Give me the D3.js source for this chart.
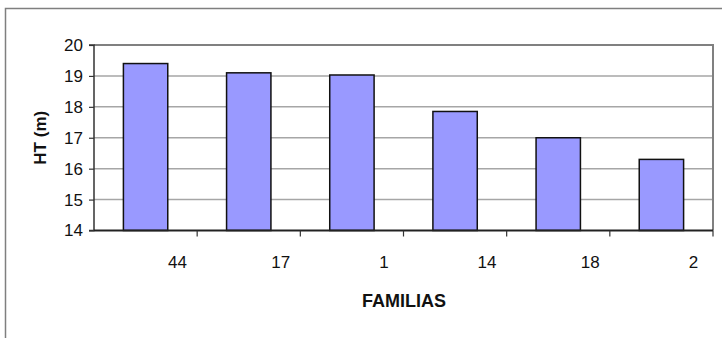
<!DOCTYPE html>
<html><head><meta charset="utf-8">
<script src="https://cdn.jsdelivr.net/npm/d3@7"></script>
<style>body{margin:0;background:#fff;}svg{display:block;font-family:"Liberation Sans",Arial,sans-serif;}</style>
</head><body>
<svg id="c" width="722" height="338"></svg>
<script>
const categories = ["44","17","1","14","18","2"];
const values = [19.4, 19.1, 19.03, 17.85, 17.0, 16.3];
const yTicks = [14,15,16,17,18,19,20];
const yTitle = "HT (m)";
const xTitle = "FAMILIAS";

const svg = d3.select("#c");
const L = 94, R = 713, T = 45, B = 230.5;

// outer frame
svg.append("path").attr("d", `M5.5,338 V8.5 H722`).attr("fill","none").attr("stroke","#7f7f7f").attr("stroke-width",1.5);

const x = d3.scaleBand().domain(categories).range([L, R]).paddingInner(0.57).paddingOuter(0.285);
const xb = d3.scaleBand().domain(categories).range([L, R]);
const y = d3.scaleLinear().domain([14,20]).range([B, T]);

// gridlines
svg.append("g").selectAll("line").data(yTicks.filter(t => t>14 && t<20)).join("line")
  .attr("x1", L).attr("x2", R).attr("y1", d => y(d)).attr("y2", d => y(d))
  .attr("stroke","#a6a6a6").attr("stroke-width",1.5);
// plot frame top/right
svg.append("path").attr("d", `M${L},${T} H${R} V${B}`).attr("fill","none").attr("stroke","#808080").attr("stroke-width",2);

// bars
svg.append("g").selectAll("rect").data(values).join("rect")
  .attr("x", (d,i) => x(categories[i])).attr("width", x.bandwidth())
  .attr("y", d => y(d)).attr("height", d => B - y(d))
  .attr("fill","#9999ff").attr("stroke","#111").attr("stroke-width",1.5);

// y axis
const yAxis = d3.axisLeft(y).tickValues(yTicks).tickSize(5).tickPadding(6).tickFormat(d3.format("d"));
const gy = svg.append("g").attr("transform", `translate(${L},0)`).call(yAxis);
gy.select(".domain").attr("stroke","#333").attr("stroke-width",1.5).attr("d", `M-5,${T}H0V${B}H-5`);
gy.selectAll(".tick line").attr("stroke","#333").attr("stroke-width",1.2);
gy.selectAll(".tick text").attr("font-size",17).attr("fill","#111").attr("font-family","Liberation Sans, Arial, sans-serif");

// x axis
const gx = svg.append("g").attr("transform", `translate(0,${B})`);
gx.append("line").attr("x1", L).attr("x2", R).attr("stroke","#222").attr("stroke-width",1.8);
gx.selectAll("line.tk").data(categories).join("line").attr("class","tk")
  .attr("x1", d => xb(d) + xb.bandwidth()).attr("x2", d => xb(d) + xb.bandwidth())
  .attr("y1", 0).attr("y2", 6).attr("stroke","#333").attr("stroke-width",1.2);
gx.selectAll("text").data(categories).join("text")
  .attr("x", d => xb(d) + xb.bandwidth()*0.5 + 32).attr("y", 37)
  .attr("text-anchor","middle").attr("font-size",17).attr("fill","#111").text(d => d);

// titles
svg.append("text").attr("x", 404).attr("y", 307).attr("text-anchor","middle")
  .attr("font-size",18).attr("font-weight","bold").attr("fill","#111").text(xTitle);
svg.append("text").attr("transform", `translate(46,${(T+B)/2}) rotate(-90)`).attr("text-anchor","middle")
  .attr("font-size",17).attr("font-weight","bold").attr("fill","#111").text(yTitle);
</script>
</body></html>
